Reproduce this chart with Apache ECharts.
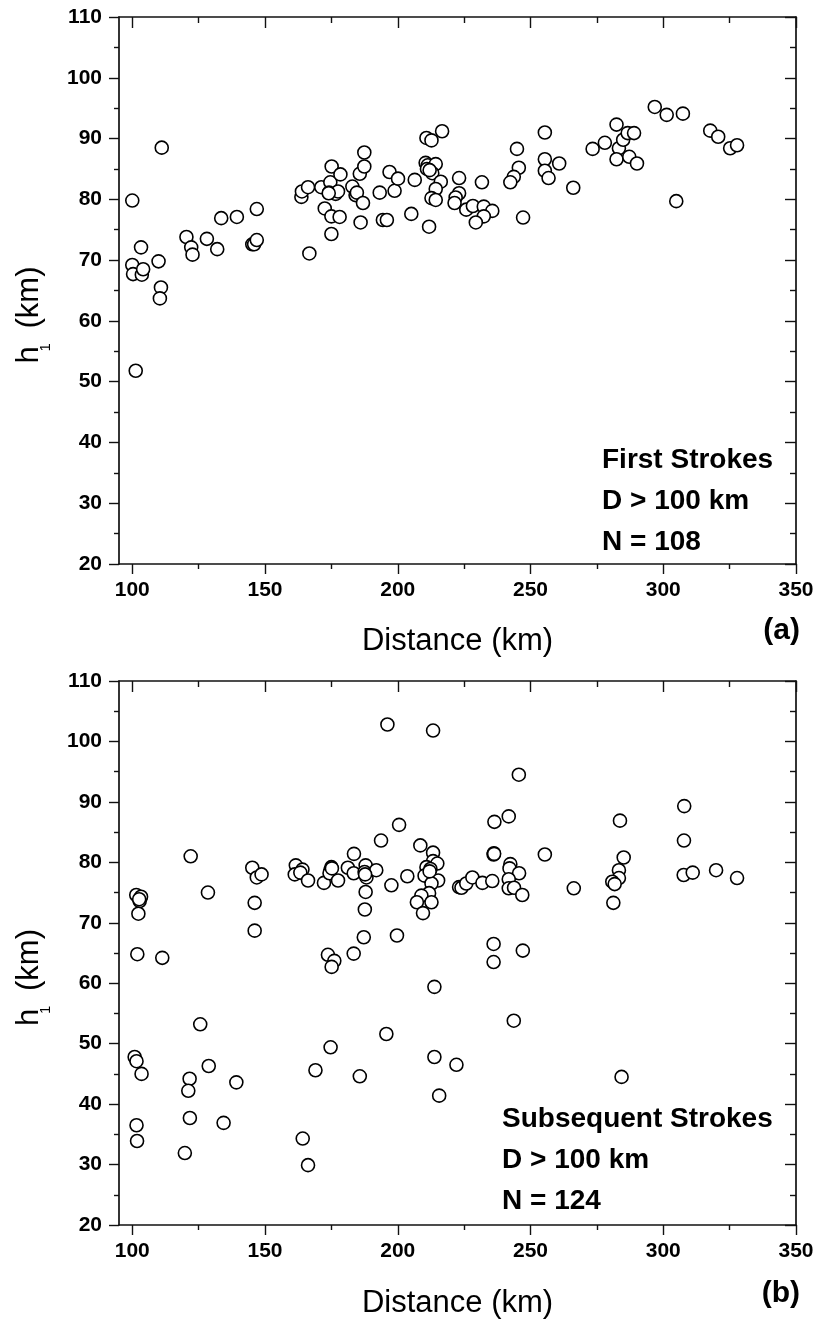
<!DOCTYPE html>
<html>
<head>
<meta charset="utf-8">
<script src="https://cdn.jsdelivr.net/npm/echarts@6/dist/echarts.min.js"></script>
<style>
  html, body { margin: 0; padding: 0; background: #fff; }
  #chart { width: 818px; height: 1320px; }
</style>
</head>
<body>
<div id="chart"></div>
<script>
// Panel (a): first strokes, distance (km) vs reflection height h1 (km)
const firstDist = [
  100.0, 111.1, 100.0, 100.3, 103.6, 104.1, 103.3, 109.9, 110.8, 110.4,
  120.4, 122.2, 122.7, 128.1, 132.0, 133.5, 139.4, 146.9, 145.2, 145.9,
  146.9, 163.7, 163.9, 166.2, 166.7, 171.2, 172.5, 175.1, 174.6, 174.1,
  175.0, 175.0, 176.6, 177.5, 178.4, 178.1, 182.9, 184.1, 184.6, 185.7,
  187.4, 187.4, 186.9, 186.0, 193.2, 194.4, 195.9, 196.9, 198.8, 200.1,
  205.1, 101.3, 206.4, 210.8, 212.7, 216.7, 210.5, 211.3, 214.3, 211.0,
  213.0, 216.2, 214.3, 212.7, 214.3, 211.8, 223.1, 231.7, 223.1, 221.8,
  221.4, 225.8, 228.3, 232.4, 235.6, 232.4, 229.4, 244.9, 245.6, 243.7,
  242.4, 247.2, 255.4, 255.4, 255.4, 256.8, 260.8, 266.1, 273.4, 278.0,
  282.4, 283.3, 282.4, 284.9, 286.6, 289.0, 287.2, 290.1, 296.8, 301.3,
  307.4, 304.9, 317.7, 320.7, 325.2, 327.8, 174.0, 212.0
];
const firstH1 = [
  79.8, 88.5, 69.2, 67.7, 67.6, 68.5, 72.1, 69.8, 65.5, 63.7,
  73.8, 72.1, 70.9, 73.5, 71.8, 76.9, 77.1, 78.4, 72.6, 72.6,
  73.3, 80.4, 81.3, 82.0, 71.1, 82.0, 78.5, 85.4, 82.8, 81.1,
  77.2, 74.3, 80.9, 81.3, 84.1, 77.1, 82.1, 80.7, 81.1, 84.2,
  87.7, 85.4, 79.4, 76.2, 81.1, 76.6, 76.6, 84.5, 81.4, 83.4,
  77.6, 51.8, 83.2, 90.1, 89.7, 91.2, 86.0, 85.6, 85.8, 85.0,
  84.3, 82.9, 81.7, 80.2, 79.9, 75.5, 83.5, 82.8, 81.0, 80.3,
  79.4, 78.3, 78.9, 78.8, 78.1, 77.2, 76.2, 88.3, 85.2, 83.7,
  82.8, 77.0, 91.0, 86.6, 84.7, 83.5, 85.9, 81.9, 88.3, 89.3,
  92.3, 88.4, 86.6, 89.8, 90.9, 90.9, 87.0, 85.9, 95.2, 93.9,
  94.1, 79.7, 91.3, 90.3, 88.4, 88.9, 81.0, 84.8
];

// Panel (b): subsequent strokes
const subsDist = [
  196.1, 200.5, 193.7, 122.0, 128.5, 101.5, 103.3, 102.8, 102.3, 101.9,
  111.3, 145.2, 146.9, 148.7, 146.1, 146.1, 161.6, 161.2, 164.1, 163.3,
  166.2, 172.2, 175.0, 174.6, 174.3, 177.5, 181.2, 183.5, 183.4, 187.9,
  187.5, 188.2, 187.9, 187.6, 187.2, 191.9, 197.6, 199.7, 203.6, 173.7,
  176.1, 175.1, 183.4, 213.3, 245.6, 241.8, 236.4, 307.9, 283.7, 307.8,
  208.5, 236.2, 236.1, 255.4, 213.3, 213.3, 214.9, 210.8, 212.3, 210.1,
  215.2, 212.7, 211.8, 208.9, 207.2, 212.7, 209.5, 223.1, 224.0, 225.8,
  228.1, 231.9, 235.6, 242.4, 242.1, 245.7, 241.8, 241.8, 243.8, 246.9,
  266.3, 285.1, 283.3, 283.3, 280.8, 281.7, 281.2, 307.7, 311.1, 319.9,
  327.8, 236.1, 236.1, 247.1, 213.8, 100.9, 101.6, 103.5, 101.6, 101.8,
  125.6, 128.8, 121.6, 121.1, 121.7, 119.8, 139.2, 134.4, 164.2, 166.2,
  169.0, 174.7, 185.7, 195.7, 243.7, 213.8, 222.1, 215.6, 284.3, 236.3,
  175.2, 212.0, 187.7, 102.6
];
const subsH1 = [
  102.8, 86.2, 83.6, 81.0, 75.0, 74.6, 74.3, 73.6, 71.5, 64.8,
  64.2, 79.1, 77.5, 78.0, 73.3, 68.7, 79.5, 78.0, 78.8, 78.3,
  77.0, 76.6, 79.2, 78.7, 78.2, 77.0, 79.1, 81.4, 78.2, 79.5,
  78.4, 77.5, 75.1, 72.2, 67.6, 78.7, 76.2, 67.9, 77.7, 64.7,
  63.7, 62.7, 64.9, 101.8, 94.5, 87.6, 86.7, 89.3, 86.9, 83.6,
  82.8, 81.5, 81.3, 81.3, 81.6, 80.2, 79.8, 79.2, 78.9, 77.8,
  77.0, 76.5, 74.9, 74.5, 73.4, 73.4, 71.6, 75.9, 75.8, 76.5,
  77.5, 76.6, 76.9, 79.7, 79.0, 78.2, 77.2, 75.7, 75.8, 74.6,
  75.7, 80.8, 78.7, 77.4, 76.8, 76.4, 73.3, 77.9, 78.3, 78.7,
  77.4, 66.5, 63.5, 65.4, 59.4, 47.8, 47.1, 45.0, 36.5, 33.9,
  53.2, 46.3, 44.2, 42.2, 37.7, 31.9, 43.6, 36.9, 34.3, 29.9,
  45.6, 49.4, 44.6, 51.6, 53.8, 47.8, 46.5, 41.4, 44.5, 81.4,
  79.0, 78.5, 78.0, 73.9
];

// Axis tick values
const distMajor = [100, 150, 200, 250, 300, 350];
const distMinor = [125, 175, 225, 275, 325];
const h1Range = [20, 110];
const distRange = [95, 350];

// Panel annotations
const panels = [
  { tag: '(a)', lines: ['First Strokes', 'D > 100 km', 'N = 108'] },
  { tag: '(b)', lines: ['Subsequent Strokes', 'D > 100 km', 'N = 124'] }
];

const FONT = '"Liberation Sans", Arial, Helvetica, sans-serif';
const INK = '#111';
// distance from the top of a text box to its baseline, as a share of font size
const TOP_TO_BASE = 0.775;

const grids = [
  { left: 119, top: 17, width: 677, height: 547 },
  { left: 119, top: 681, width: 677, height: 544 }
];

function xAxesFor(g) {
  const base = {
    gridIndex: g, type: 'value', min: distRange[0], max: distRange[1],
    splitLine: { show: false }
  };
  return [
    Object.assign({}, base, {
      position: 'bottom',
      axisLine: { show: true, onZero: false, lineStyle: { color: INK, width: 1.7 } },
      axisTick: { show: true, inside: false, length: 10, customValues: distMajor, lineStyle: { color: INK, width: 1.4 } },
      axisLabel: { show: true, customValues: distMajor, margin: 16, color: '#000', fontFamily: FONT, fontWeight: 'bold', fontSize: 21 }
    }),
    Object.assign({}, base, {
      position: 'bottom',
      axisLine: { show: false, onZero: false },
      axisTick: { show: true, inside: false, length: 5, customValues: distMinor, lineStyle: { color: INK, width: 1.4 } },
      axisLabel: { show: false }
    }),
    Object.assign({}, base, {
      position: 'top',
      axisLine: { show: true, onZero: false, lineStyle: { color: INK, width: 1.7 } },
      axisTick: { show: true, inside: true, length: 11, customValues: distMajor, lineStyle: { color: INK, width: 1.4 } },
      axisLabel: { show: false }
    }),
    Object.assign({}, base, {
      position: 'top',
      axisLine: { show: false, onZero: false },
      axisTick: { show: true, inside: true, length: 6, customValues: distMinor, lineStyle: { color: INK, width: 1.4 } },
      axisLabel: { show: false }
    })
  ];
}

function yAxesFor(g) {
  const base = {
    gridIndex: g, type: 'value', min: h1Range[0], max: h1Range[1], interval: 10,
    splitLine: { show: false }, minorSplitLine: { show: false }
  };
  return [
    Object.assign({}, base, {
      position: 'left',
      axisLine: { show: true, onZero: false, lineStyle: { color: INK, width: 1.7 } },
      axisTick: { show: true, inside: false, length: 10, lineStyle: { color: INK, width: 1.4 } },
      minorTick: { show: true, splitNumber: 2, length: 5, lineStyle: { color: INK, width: 1.4 } },
      axisLabel: { show: true, margin: 17, color: '#000', fontFamily: FONT, fontWeight: 'bold', fontSize: 21 }
    }),
    Object.assign({}, base, {
      position: 'right',
      axisLine: { show: true, onZero: false, lineStyle: { color: INK, width: 1.7 } },
      axisTick: { show: true, inside: true, length: 11, lineStyle: { color: INK, width: 1.4 } },
      minorTick: { show: true, splitNumber: 2, length: 6, lineStyle: { color: INK, width: 1.4 } },
      axisLabel: { show: false }
    })
  ];
}

function pairs(xs, ys) {
  return xs.map((x, i) => [x, ys[i]]);
}

function scatterFor(g, data) {
  return {
    type: 'scatter',
    xAxisIndex: g * 4,
    yAxisIndex: g * 2,
    data: data,
    symbol: 'circle',
    symbolSize: 13,
    itemStyle: { color: '#fff', borderColor: '#000', borderWidth: 1.6, opacity: 1 },
    emphasis: { disabled: true },
    silent: true
  };
}

// Text placed around each panel: axis titles, annotation block and panel tag.
// Positions are given as baselines and converted to top-aligned boxes.
function panelText(g) {
  const gr = grids[g];
  const midX = gr.left + gr.width / 2;
  const p = panels[g];
  const els = [];
  const txt = (x, baseline, text, size, weight, align) => ({
    type: 'text', x: x, y: baseline - TOP_TO_BASE * size, silent: true,
    style: {
      text: text, fill: '#000', align: align || 'left', verticalAlign: 'top',
      font: (weight || 'normal') + ' ' + size + 'px ' + FONT
    }
  });
  // vertical text reading upward; baselineX is the screen x of its baseline
  const vtxt = (baselineX, startY, text, size) => ({
    type: 'text', x: baselineX - TOP_TO_BASE * size, y: startY, rotation: Math.PI / 2, silent: true,
    style: {
      text: text, fill: '#000', align: 'left', verticalAlign: 'top',
      font: 'normal ' + size + 'px ' + FONT
    }
  });

  const distBase = g === 0 ? 650 : 1312;
  els.push(txt(midX, distBase, 'Distance (km)', 31, 'normal', 'center'));

  const yc = gr.top + gr.height / 2 + 25;
  els.push(vtxt(38, yc + 48, 'h', 31));
  els.push(vtxt(50, yc + 36, '1', 15));
  els.push(vtxt(38, yc + 13, '(km)', 31));

  els.push(txt(800, g === 0 ? 639 : 1302, p.tag, 30, 'bold', 'right'));

  const ax = g === 0 ? 602 : 502;
  const base = g === 0 ? 468.3 : 1127.3;
  p.lines.forEach((line, i) => {
    els.push(txt(ax, base + i * 40.7, line, 28, 'bold', 'left'));
  });
  return els;
}

const chart = echarts.init(document.getElementById('chart'), null, { renderer: 'canvas' });
chart.setOption({
  animation: false,
  backgroundColor: '#fff',
  grid: grids,
  xAxis: xAxesFor(0).concat(xAxesFor(1)),
  yAxis: yAxesFor(0).concat(yAxesFor(1)),
  series: [
    scatterFor(0, pairs(firstDist, firstH1)),
    scatterFor(1, pairs(subsDist, subsH1))
  ],
  graphic: panelText(0).concat(panelText(1))
});
</script>
</body>
</html>
